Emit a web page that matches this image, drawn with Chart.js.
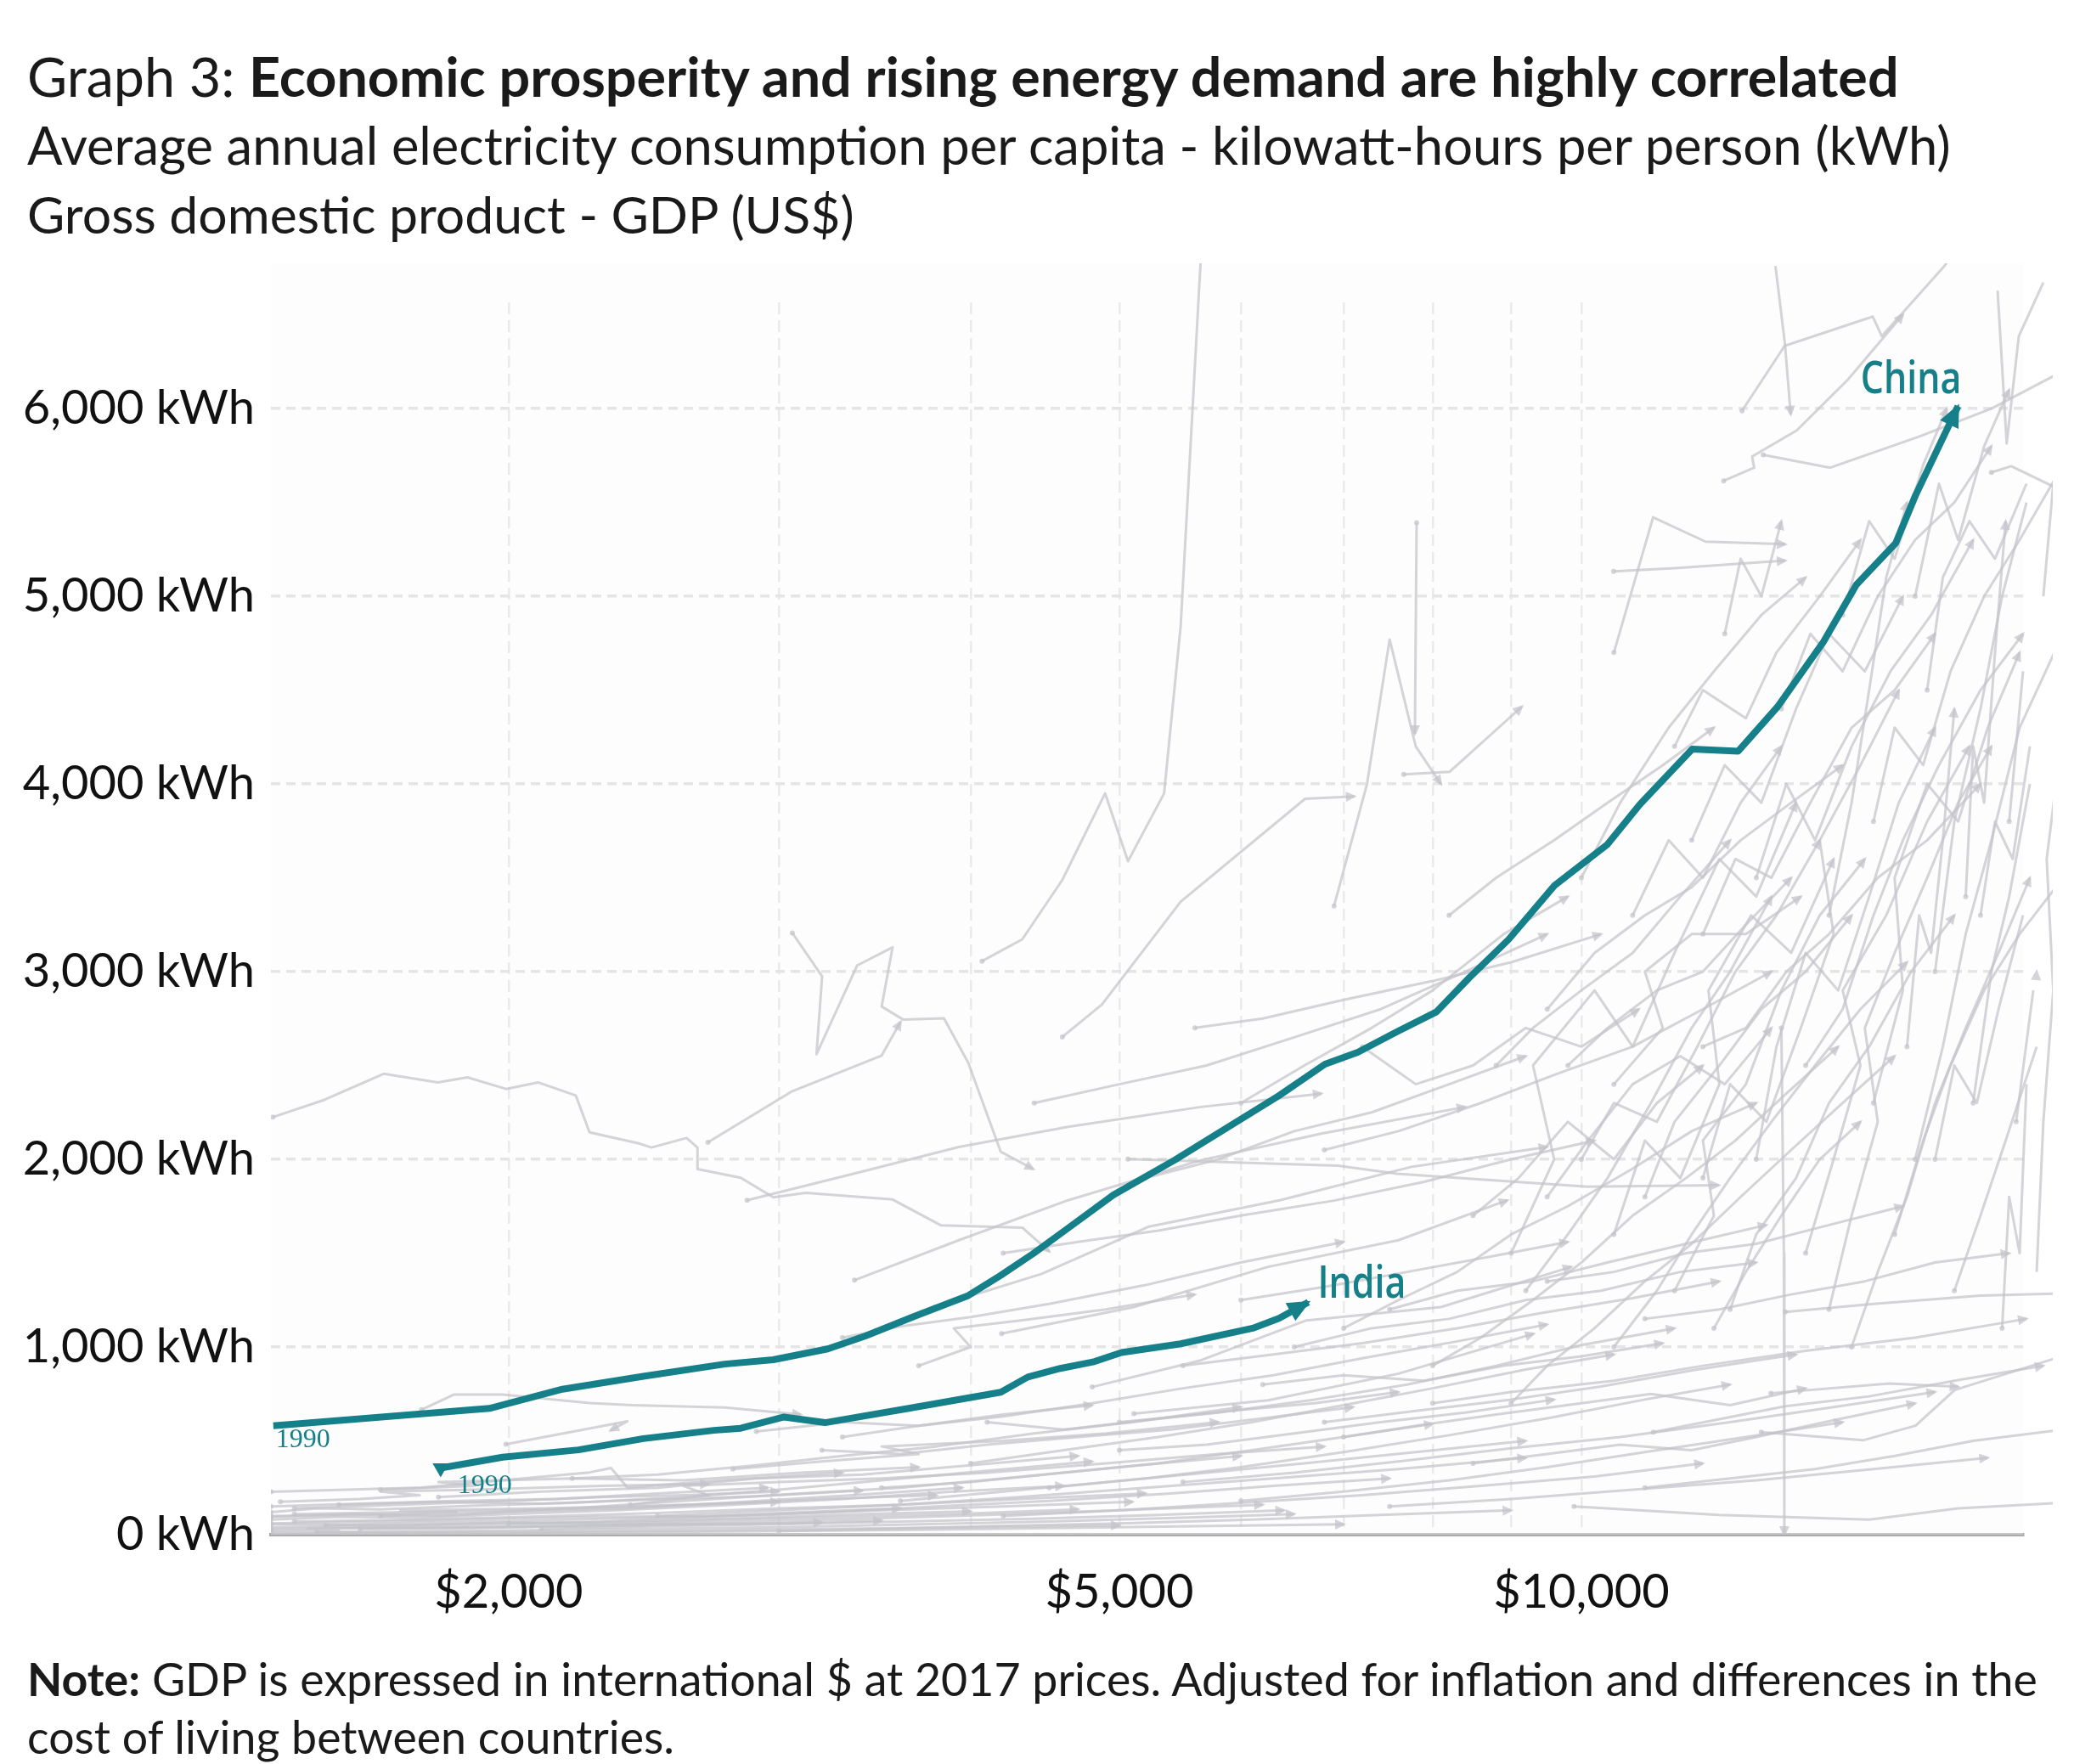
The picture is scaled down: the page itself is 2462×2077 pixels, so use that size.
<!DOCTYPE html>
<html lang="en">
<head>
<meta charset="UTF-8">
<title>Graph 3: Economic prosperity and rising energy demand</title>
<script src="https://cdn.jsdelivr.net/npm/chart.js"></script>
<style>
    body { margin: 0; width: 2462px; height: 2077px; position: relative; overflow: hidden; background: #fff; font-family: Lato, sans-serif; color: #1a1a1a; }
    #chartBox { position: absolute; left: 0; top: 0; width: 2462px; height: 2077px; }
    .txt { position: absolute; left: 32px; white-space: nowrap; line-height: 1; }
</style>
</head>
<body>

<div id="chartBox"><canvas id="energyChart" width="2462" height="2077"></canvas></div>

<div class="txt" data-w="2204" data-cy="91">Graph 3: <b>Economic prosperity and rising energy demand are highly correlated</b></div>
<div class="txt" data-w="2265" data-cy="173">Average annual electricity consumption per capita - kilowatt-hours per person (kWh)</div>
<div class="txt" data-w="974" data-cy="254">Gross domestic product - GDP (US$)</div>
<div class="txt" id="note1" data-w="2367" data-cy="1978"><b>Note:</b> GDP is expressed in international $ at 2017 prices. Adjusted for inflation and differences in the</div>
<div class="txt" id="note2" data-cy="2046">cost of living between countries.</div>

<script>
    // GDP per capita (international $, 2017 prices) and electricity per capita (kWh), 1990 onwards
    var chinaGdp = [1405, 1943, 2168, 2448, 2766, 2975, 3228, 3416, 3675, 3986, 4185, 4394, 4613, 4955, 5430,
                    6352, 6807, 7150, 7584, 8047, 8453, 8965, 9605, 10393, 10919, 11810, 12654, 13422, 14382,
                    15107, 16026, 16508, 17597];
    var chinaKwh = [580, 673, 775, 844, 909, 932, 990, 1059, 1163, 1274, 1382, 1498, 1624, 1810, 1995,
                    2339, 2507, 2570, 2680, 2786, 2968, 3171, 3459, 3676, 3892, 4186, 4175, 4411, 4758,
                    5061, 5283, 5537, 6013];

    var indiaGdp = [1806, 1982, 2221, 2448, 2721, 2833, 3023, 3215, 3645, 4185, 4358, 4576, 4805, 5016, 5482, 6107, 6353, 6639];
    var indiaKwh = [355, 413, 452, 512, 556, 567, 627, 597, 673, 759, 840, 886, 920, 971, 1017, 1100, 1153, 1239];

    // other countries, [gdp, kWh] per step
    var lowTracks = [
        [[1400, 40], [1600, 45], [1850, 55], [2100, 60], [2500, 75], [2900, 90], [3400, 110], [4000, 125]],
        [[1400, 80], [1550, 95], [1750, 90], [2000, 110], [2350, 130], [2800, 160], [3300, 190], [3900, 230], [4600, 260]],
        [[1400, 120], [1500, 140], [1650, 135], [1900, 155], [2200, 170], [2600, 200], [3000, 240], [3500, 290], [4100, 340], [4800, 390]],
        [[1420, 175], [1600, 190], [1750, 210], [1650, 230], [1900, 240], [2300, 260], [2700, 270]],
        [[1400, 228], [1755, 251], [2258, 332], [2332, 355], [2390, 251], [2750, 290], [3300, 330]],
        [[1500, 15], [1900, 20], [2400, 30], [3000, 40], [3700, 55], [4500, 70], [5500, 90], [6500, 110]],
        [[1650, 100], [1900, 115], [2200, 140], [2600, 180], [3100, 220], [3600, 250], [4200, 300], [5000, 360], [6000, 420]],
        [[2000, 60], [2300, 70], [2700, 95], [3200, 120], [3800, 150], [4500, 180], [5400, 220], [6300, 260], [7500, 300]],
        [[1992, 482], [2390, 604], [2330, 555]],
        [[1755, 666], [1843, 747], [1982, 747], [2258, 701], [2409, 690], [2766, 678], [3100, 640]],
        [[2400, 160], [2700, 210], [2600, 260], [3000, 280], [3500, 300], [4100, 330], [4900, 380], [5800, 430], [6800, 470]],
        [[2800, 350], [3200, 390], [3700, 430], [3500, 470], [4200, 500], [4900, 540], [5800, 600]],
        [[3000, 20], [3500, 30], [4100, 45], [5000, 60], [6100, 80], [7400, 105], [9000, 130]],
        [[2200, 300], [2500, 320], [2900, 370], [3300, 420], [3800, 470], [4400, 540], [5100, 600], [6000, 680]],
        [[3600, 180], [4200, 230], [4900, 280], [5700, 330], [6600, 380], [7800, 440], [9200, 500]],
        [[1400, 10], [1700, 12], [2100, 15], [2600, 22], [3200, 30], [4000, 40], [5000, 50]],
        [[1400, 60], [1650, 70], [1950, 85], [2300, 95], [2700, 100], [3100, 120], [3600, 140]],
        [[1450, 140], [1700, 160], [2000, 180], [2300, 200], [2600, 210], [3000, 230]],
        [[1600, 30], [1900, 35], [2300, 50], [2800, 70], [3400, 85], [4100, 105], [5000, 130], [6200, 160]],
        [[1800, 200], [2100, 230], [2500, 250], [2900, 300], [3400, 320], [4000, 370], [4700, 420]],
        [[2500, 100], [3000, 130], [3600, 160], [4300, 200], [5200, 250], [6300, 300], [7600, 350], [9200, 410]],
        [[4200, 100], [5000, 130], [6000, 170], [7200, 210], [8600, 260], [10200, 310], [12000, 380]],
        [[1400, 95], [1580, 110], [1800, 100], [2050, 125], [2400, 140], [2850, 175], [3350, 210], [3950, 250]],
        [[1520, 50], [1750, 65], [2050, 75], [2450, 90], [2950, 105], [3500, 130], [4200, 150], [5100, 175]],
        [[1400, 20], [1550, 25], [1480, 35], [1700, 40], [2000, 45], [2400, 55], [2900, 60], [3500, 75]],
        [[1400, 55], [1700, 50], [2000, 65], [2350, 60], [2750, 80], [3300, 95], [3900, 110], [4700, 135]],
        [[1400, 100], [1600, 105], [1850, 120], [1700, 130], [2100, 140], [2500, 155], [3000, 175]],
        [[1450, 70], [1750, 80], [2050, 95], [2500, 115], [3000, 140], [3600, 160], [4300, 190], [5200, 220]],
        [[1550, 160], [1800, 175], [2100, 165], [2450, 185], [2900, 205], [3400, 235]],
        [[1400, 5], [1800, 8], [2300, 12], [2900, 18], [3600, 25], [4500, 35], [5600, 45], [7000, 55]],
        [[2100, 30], [2500, 45], [3000, 55], [3600, 70], [4400, 85], [5300, 105], [6400, 130]],
        [[1650, 240], [1900, 260], [1800, 280], [2200, 300], [2600, 290], [3100, 330], [3700, 360]],
        [[1400, 30], [1650, 35], [1950, 40], [2300, 45], [2700, 55], [3200, 65]],
        [[1450, 110], [1700, 120], [2000, 130], [2350, 145], [2750, 165], [3200, 190], [3800, 210]],
        [[1400, 150], [1600, 165], [1850, 180], [2150, 190], [2500, 220], [2950, 250]]
    ];

    var lowerMidTracks = [
        [[3300, 520], [3700, 580], [4200, 630], [4800, 700], [5500, 780], [6300, 850], [7200, 940], [8300, 1030], [9500, 1120]],
        [[4000, 380], [4600, 450], [5300, 520], [6100, 600], [7000, 690], [8000, 780], [9200, 880], [10500, 960]],
        [[4500, 250], [5200, 300], [6000, 360], [7000, 440], [8200, 530], [9500, 620], [11000, 720], [12500, 800]],
        [[5000, 600], [5800, 650], [6700, 720], [7700, 800], [8800, 900], [10000, 1010], [11500, 1100]],
        [[6000, 180], [7000, 230], [8200, 290], [9500, 360], [11000, 440], [12800, 520], [14800, 600]],
        [[9890, 150], [12290, 105], [15400, 80], [17600, 140], [20600, 170]],
        [[13100, 546], [15260, 503], [16510, 581], [17510, 771], [20600, 953]],
        [[13290, 754], [15870, 806], [17600, 788]],
        [[13580, 1187], [15500, 1230], [18200, 1274], [20600, 1285]],
        [[7000, 520], [7800, 580], [8800, 640], [10000, 700], [11100, 750], [12500, 690], [14000, 780]],
        [[8500, 380], [9500, 430], [10600, 480], [11800, 450], [13000, 520], [14600, 610], [16500, 700]],
        [[11140, 546], [13580, 684], [15400, 737], [17500, 820], [20000, 900]],
        [[5500, 900], [6300, 960], [7200, 1020], [8300, 1100], [9400, 1180], [10800, 1260], [12300, 1350]],
        [[8000, 700], [9000, 760], [10500, 820], [12000, 900], [14000, 980], [16500, 1050], [19500, 1150]],
        [[11000, 250], [12500, 300], [14200, 350], [16000, 420], [18000, 500], [20600, 560]],
        [[5500, 280], [6500, 330], [7600, 390], [9000, 460], [10600, 520], [12500, 600], [14600, 680], [17000, 760]],
        [[6800, 600], [7800, 660], [9000, 720], [10300, 790], [11900, 880], [13800, 960]],
        [[7500, 150], [9000, 190], [10800, 240], [13000, 290], [15500, 350], [18400, 410]],
        [[4800, 787], [5650, 929], [6620, 1142], [8100, 1213], [9850, 1427]],
        [[5110, 645], [6250, 716], [7600, 858], [9310, 1071]],
        [[12200, 1100], [12800, 1400], [13500, 1700], [14300, 2000], [15200, 2200]],
        [[6500, 1000], [7300, 1100], [8200, 1150], [9200, 1250], [10300, 1300], [11600, 1400], [13000, 1450]],
        [[7500, 1200], [8300, 1300], [9300, 1350], [10400, 1450], [11700, 1550], [13200, 1650]],
        [[9500, 1350], [10500, 1400], [11700, 1500], [13000, 1550], [14500, 1650], [16200, 1750]],
        [[11000, 1150], [12300, 1200], [13700, 1280], [15300, 1350], [17000, 1450], [19000, 1500]],
        [[6000, 1250], [6800, 1320], [7700, 1400], [8700, 1480], [9800, 1560]],
        [[3200, 450], [3600, 430], [4100, 480], [4700, 520], [5400, 560], [6200, 620], [7100, 680]],
        [[3500, 250], [4000, 280], [4600, 330], [5300, 380], [6100, 450], [7000, 520], [8000, 590]],
        [[4100, 600], [4600, 560], [5200, 610], [5900, 660], [6700, 700], [7600, 760]],
        [[5000, 450], [5700, 480], [6500, 540], [7400, 600], [8400, 650], [9600, 720]],
        [[2900, 550], [3300, 600], [3700, 580], [4200, 640], [4800, 690]],
        [[6200, 800], [7000, 850], [7900, 820], [8900, 900], [10000, 950], [11300, 1020]]
    ];

    var midTracks = [
        [[1404, 2225], [1517, 2317], [1658, 2456], [1798, 2410], [1880, 2437], [1992, 2375], [2090, 2410], [2212, 2340],
         [2258, 2144], [2428, 2086], [2478, 2063], [2612, 2114], [2655, 2063], [2655, 1948], [2833, 1902], [2975, 1798],
         [3124, 1821], [3558, 1786], [3827, 1648], [4322, 1636], [4501, 1509]],
        [[3061, 3206], [3201, 2975], [3174, 2560], [3374, 3033], [3558, 3130], [3500, 2814], [3616, 2744], [3843, 2751],
         [3986, 2514], [4185, 2040], [4394, 1948]],
        [[2697, 2091], [3061, 2363], [3500, 2553], [3601, 2733]],
        [[5065, 2001], [6940, 1966], [7584, 1923], [10090, 1854], [12290, 1862]],
        [[3300, 1050], [3600, 1110], [4000, 1160], [4500, 1230], [5200, 1330], [6000, 1450], [7000, 1560]],
        [[4200, 1500], [4700, 1560], [5300, 1620], [6000, 1700], [6900, 1780], [7900, 1880], [9000, 2000], [10200, 2100]],
        [[3700, 900], [4000, 1000], [3900, 1100], [4300, 1140], [4900, 1200], [5600, 1280]],
        [[7000, 1100], [7600, 1250], [8300, 1400], [9000, 1600], [9800, 1750], [10800, 1950], [11800, 2150], [13000, 2300]],
        [[8000, 900], [8600, 1050], [9300, 1250], [10000, 1450], [10800, 1700], [11700, 1900], [12600, 2100], [13600, 2350], [14700, 2600]],
        [[9000, 700], [9500, 900], [10200, 1100], [11000, 1350], [11800, 1550], [12700, 1800], [13700, 2050], [14800, 2300], [16000, 2550]],
        [[10500, 1000], [11200, 1300], [11800, 1600], [12500, 1900], [13300, 2200], [14200, 2500], [15200, 2800], [16300, 3050]],
        [[6800, 2050], [7600, 2150], [8600, 2300], [9600, 2450], [10800, 2600], [12000, 2800], [13300, 3000]],
        [[5600, 2700], [6200, 2750], [7000, 2850], [8000, 2950], [9000, 3050], [10300, 3200]],
        [[11500, 1300], [12200, 1700], [12000, 2100], [12800, 2400], [13500, 2900], [14300, 3300], [15300, 3600]],
        [[14000, 1500], [14600, 2000], [15200, 2500], [14800, 2900], [15800, 3300], [16800, 3800], [17900, 4200]],
        [[12000, 2600], [12800, 2700], [13600, 3000], [14500, 3200], [15600, 3500], [16800, 3700], [18200, 4000]],
        [[15000, 1000], [15600, 1400], [16300, 1800], [17000, 2300], [17800, 2700], [18700, 3100], [19600, 3500]],
        [[16500, 2000], [17200, 2600], [17800, 3200], [18500, 3700], [19300, 4300], [20600, 4800]],
        [[13500, 2700], [13550, 1500], [13560, 300], [13560, 0]],
        [[4590, 2652], [4870, 2824], [5482, 3373], [6607, 3921], [7114, 3934]],
        [[2860, 1782], [3360, 1924], [3930, 2066], [4630, 2173], [5650, 2279], [6770, 2350]],
        [[3360, 1356], [3930, 1569], [4630, 1782], [5650, 1995], [6770, 2137], [8400, 2279]],
        [[3790, 1213], [4450, 1390], [5220, 1640], [6360, 1782], [7750, 1960], [9500, 2066]],
        [[4190, 1071], [5110, 1213], [6250, 1427], [7600, 1569], [8950, 1782]],
        [[4400, 2300], [5000, 2400], [5700, 2500], [6500, 2650], [7400, 2800], [8400, 3000], [9500, 3200]],
        [[5200, 1900], [5800, 2000], [6500, 2150], [7300, 2250], [8200, 2400], [9200, 2550]],
        [[6000, 2300], [6600, 2500], [7300, 2700], [8000, 2900], [8900, 3200], [9800, 3400]],
        [[9200, 1300], [9800, 1600], [10400, 1900], [11100, 2300], [11800, 2700], [12500, 3000], [13300, 3400]],
        [[10000, 2000], [10500, 2300], [11200, 2200], [11900, 2600], [12600, 3000], [13400, 3300], [14300, 3700]],
        [[11000, 1800], [11500, 2200], [12300, 2500], [13100, 2800], [14000, 3000], [15000, 3300]],
        [[12500, 1200], [13000, 1600], [13800, 1900], [14500, 2300], [15400, 2600], [16400, 3000], [17500, 3300]],
        [[16000, 1600], [16700, 2100], [17400, 2500], [18300, 2900], [19300, 3200], [20600, 3500]],
        [[17500, 1300], [18200, 1700], [18900, 2100], [19800, 2600], [20600, 3000]],
        [[18000, 2300], [18500, 3000], [19000, 3400], [19600, 4000], [20600, 4400]],
        [[8800, 2500], [9300, 2700], [10000, 2900], [10800, 3100], [11600, 3400], [12500, 3700]],
        [[7200, 2600], [7800, 2400], [8500, 2500], [9200, 2700], [10000, 2600], [10900, 2800]],
        [[10500, 2400], [11300, 2700], [11000, 3000], [11800, 3200], [12800, 3200], [13900, 3400]],
        [[9500, 1800], [10100, 2100], [10800, 2400], [11600, 2550], [12400, 2400], [13300, 2700]],
        [[9000, 1500], [9600, 2000], [9300, 2500], [10200, 2900], [10800, 2600], [11500, 3100], [12300, 3600], [13000, 3400], [13800, 3900]],
        [[10500, 1600], [11000, 2100], [11600, 1900], [12300, 2400], [12100, 2900], [12900, 3300], [13700, 3100], [14600, 3600]],
        [[12000, 1900], [12500, 2400], [13200, 2200], [13900, 2700], [14600, 3200], [14300, 3700], [15200, 4100], [16100, 4500]],
        [[13000, 2000], [13400, 2600], [14000, 3100], [14700, 2900], [15400, 3400], [16100, 3900], [17000, 4300]],
        [[14500, 1200], [15000, 1700], [15600, 2200], [15300, 2700], [16000, 3100], [16800, 3500], [17600, 3900], [18500, 4200]],
        [[15500, 2300], [16200, 2900], [16000, 3500], [16800, 4000], [17600, 3800], [18400, 4300], [19300, 4700]],
        [[17000, 2000], [17500, 2500], [18100, 2300], [18700, 2800], [19400, 3300], [20600, 3700]],
        [[18200, 3300], [18600, 3800], [19100, 3600], [19600, 4200], [20600, 4700]],
        [[19200, 2200], [19700, 2900], [20600, 3300]],
        [[8500, 1700], [9100, 1900], [9800, 2200], [10500, 2000], [11200, 2300], [12000, 2500]],
        [[9800, 2500], [10400, 2700], [11200, 2900], [12000, 3000], [12800, 3250], [13700, 3500]],
        [[19800, 1400], [20000, 2200], [20300, 2900], [20100, 3600], [20600, 4300]],
        [[18800, 1100], [19000, 1800], [19300, 1500], [19500, 2400], [19800, 3000]],
        [[16300, 2600], [16600, 3300], [16900, 3100], [17200, 3700], [17500, 4400]]
    ];

    var highTracks = [
        [[4069, 3056], [4322, 3172], [4590, 3489], [4894, 3950], [5065, 3588], [5347, 3950], [5482, 4844], [5645, 6749], [5690, 7100]],
        [[9500, 2800], [10200, 3100], [11000, 3300], [11800, 3450], [12700, 3700], [13700, 3900], [14800, 4100]],
        [[8200, 3300], [8800, 3500], [9600, 3700], [10400, 3900], [11300, 4100], [12200, 4300]],
        [[13000, 3500], [13600, 4000], [14200, 3700], [15000, 4200], [15900, 4600], [16900, 4900], [18000, 5300]],
        [[17000, 3000], [17500, 3800], [18200, 4400], [18800, 5000], [19500, 5500], [20600, 5900]],
        [[10000, 3500], [10600, 3900], [11400, 4300], [12200, 4600], [13100, 4900], [14000, 5100]],
        [[11500, 4200], [12000, 4500], [12800, 4350], [13400, 4700], [14300, 5000], [15200, 5300]],
        [[7660, 4051], [8208, 4065], [9146, 4412]],
        [[7810, 5392], [7790, 4267]],
        [[10500, 4700], [11137, 5421], [12048, 5291], [13580, 5277]],
        [[10496, 5133], [11500, 5150], [13580, 5190]],
        [[6900, 3350], [7250, 4000], [7500, 4770], [7800, 4200], [8100, 4000]],
        [[13380, 6760], [13570, 6350], [13690, 5970]],
        [[12725, 5988], [13566, 6334], [15484, 6490], [15696, 6386], [17240, 6760], [18500, 7100]],
        [[12380, 5615], [12960, 5685], [12920, 5745], [13815, 5884], [14900, 6150], [16200, 6500]],
        [[13136, 5754], [14526, 5685], [16580, 5849], [18500, 6000], [20600, 6200]],
        [[18500, 5660], [19060, 5693], [20600, 5560]],
        [[18673, 6629], [18930, 5814], [19277, 6386], [20000, 6672], [20600, 6507]],
        [[14000, 2500], [14800, 2800], [15500, 3300], [16200, 3700], [17100, 4100], [18200, 4500], [19400, 4800]],
        [[15500, 3800], [16000, 4300], [16700, 4100], [17400, 4600], [18300, 5000], [19300, 5300], [20600, 5700]],
        [[12000, 3200], [12600, 3600], [13300, 3500], [14100, 3900], [15000, 4300], [16000, 4500], [17000, 4800]],
        [[13500, 4400], [14100, 4800], [14800, 4600], [15600, 5000], [16500, 5300], [17500, 5500], [18500, 5800]],
        [[16800, 4500], [17200, 5100], [17900, 5400], [18600, 5200], [19500, 5600], [20600, 6000]],
        [[19000, 3800], [19400, 4600], [19800, 5200], [20300, 5800], [20600, 6400]],
        [[14500, 3300], [15000, 3900], [15400, 4500], [15800, 5100], [16300, 5500]],
        [[11800, 3700], [12400, 4100], [13100, 3900], [13800, 4400], [14500, 4800], [15300, 4600], [16200, 5000]],
        [[10800, 3300], [11400, 3700], [12000, 3500], [12700, 3900], [13500, 4200]],
        [[16500, 5000], [17100, 5600], [17600, 5300], [18300, 5800], [19000, 6100]],
        [[14800, 4900], [15400, 5400], [16000, 5200], [16700, 5700], [17300, 6000]],
        [[17800, 3400], [18000, 4200], [18300, 3900], [18600, 4700], [18900, 5400]],
        [[12400, 4800], [12700, 5200], [13100, 5000], [13500, 5400]],
        [[20000, 5000], [20300, 5600], [20600, 6300]]
    ];

    var yTicks = [0, 1000, 2000, 3000, 4000, 5000, 6000];
    var xGridTicks = [2000, 3000, 4000, 5000, 6000, 7000, 8000, 9000, 10000];
    var xLabelTicks = [2000, 5000, 10000];

    var teal = '#15808a';
    var grey = 'rgba(196, 196, 202, 0.72)';

    // fit the header / note lines to the widths they take in the original
    document.querySelectorAll('.txt').forEach(function (el) {
        var target = el.dataset.w ? +el.dataset.w : null;
        var size;
        if (target) {
            el.style.fontSize = '100px';
            size = 100 * target / el.scrollWidth;
        } else {
            size = parseFloat(document.getElementById('note1').style.fontSize);
        }
        el.style.fontSize = size + 'px';
        el.style.top = (+el.dataset.cy - size * 0.53) + 'px';
    });

    function toPoints(gdp, kwh) {
        return gdp.map(function (g, i) { return { x: g, y: kwh[i] }; });
    }

    var datasets = [
        { label: 'China', data: toPoints(chinaGdp, chinaKwh), borderColor: teal, borderWidth: 8, pointRadius: 0, arrow: [27, 12] },
        { label: 'India', data: toPoints(indiaGdp, indiaKwh), borderColor: teal, borderWidth: 8,
          pointRadius: function (c) { return c.dataIndex === 0 ? 11 : 0; },
          pointStyle: 'triangle', rotation: 180, pointBackgroundColor: teal, pointBorderWidth: 0, arrow: [27, 12] }
    ];
    lowTracks.concat(lowerMidTracks, midTracks, highTracks).forEach(function (t) {
        datasets.push({
            data: t.map(function (p) { return { x: p[0], y: p[1] }; }),
            borderColor: grey, borderWidth: 3,
            pointRadius: function (c) { return c.dataIndex === 0 ? 3 : 0; },
            pointBackgroundColor: grey, pointBorderWidth: 0, arrow: [13, 6]
        });
    });

    var overflow = { top: 46, right: 35 };

    var plotBackground = {
        id: 'plotBackground',
        beforeDatasetsDraw: function (chart) {
            var a = chart.chartArea, ctx = chart.ctx;
            ctx.save();
            ctx.fillStyle = 'rgba(250, 250, 250, 0.35)';
            ctx.fillRect(a.left, a.top - overflow.top, a.right - a.left, a.bottom - a.top + overflow.top);
            ctx.restore();
        }
    };

    var arrowHeads = {
        id: 'arrowHeads',
        afterDatasetDraw: function (chart, args) {
            var ds = chart.data.datasets[args.index];
            var pts = args.meta.data;
            if (!ds.arrow || pts.length < 2) return;
            var a = pts[pts.length - 2], b = pts[pts.length - 1];
            var ang = Math.atan2(b.y - a.y, b.x - a.x);
            var len = ds.arrow[0], half = ds.arrow[1];
            var ctx = chart.ctx, ca = chart.chartArea;
            var tx = b.x + 3 * Math.cos(ang), ty = b.y + 3 * Math.sin(ang);
            var bx = tx - len * Math.cos(ang), by = ty - len * Math.sin(ang);
            ctx.save();
            ctx.beginPath();
            ctx.rect(ca.left, ca.top - overflow.top, ca.right - ca.left + overflow.right, ca.bottom - ca.top + overflow.top);
            ctx.clip();
            ctx.beginPath();
            ctx.moveTo(tx, ty);
            ctx.lineTo(bx - half * Math.sin(ang), by + half * Math.cos(ang));
            ctx.lineTo(bx + half * Math.sin(ang), by - half * Math.cos(ang));
            ctx.closePath();
            ctx.fillStyle = ds.borderColor;
            ctx.fill();
            ctx.restore();
        }
    };

    var countryLabels = {
        id: 'countryLabels',
        afterDatasetsDraw: function (chart) {
            var ctx = chart.ctx;
            var china = chart.getDatasetMeta(0).data, india = chart.getDatasetMeta(1).data;
            var cEnd = china[china.length - 1], iEnd = india[india.length - 1];
            ctx.save();
            ctx.fillStyle = teal;
            ctx.textBaseline = 'middle';
            ctx.font = '600 53px "Open Sans"';
            // narrow the labels a little, like the condensed face of the original
            ctx.save();
            ctx.translate(cEnd.x + 4, cEnd.y - 30);
            ctx.scale(0.81, 1);
            ctx.textAlign = 'right';
            ctx.fillText('China', 0, 0);
            ctx.restore();
            ctx.save();
            ctx.translate(iEnd.x + 11, iEnd.y - 20);
            ctx.scale(0.81, 1);
            ctx.textAlign = 'left';
            ctx.fillText('India', 0, 0);
            ctx.restore();
            ctx.font = '32px "Liberation Serif"';
            ctx.textAlign = 'left';
            ctx.fillText('1990', china[0].x + 3, china[0].y + 17);
            ctx.fillText('1990', india[0].x + 20, india[0].y + 21);
            ctx.restore();
        }
    };

    var ctx = document.getElementById('energyChart').getContext('2d');
    var energyChart = new Chart(ctx, {
        type: 'line',
        data: { datasets: datasets },
        plugins: [plotBackground, arrowHeads, countryLabels],
        options: {
            responsive: false,
            animation: false,
            clip: { left: 0, top: overflow.top, right: overflow.right, bottom: 0 },
            elements: { line: { tension: 0, borderJoinStyle: 'round', borderCapStyle: 'butt' } },
            layout: { padding: { top: 356, right: 80, bottom: 150, left: 0 } },
            plugins: { legend: { display: false }, tooltip: { enabled: false } },
            scales: {
                x: {
                    type: 'logarithmic',
                    min: 1400,
                    max: 19400,
                    afterBuildTicks: function (scale) {
                        scale.ticks = xGridTicks.map(function (v) { return { value: v }; });
                    },
                    afterFit: function (scale) { scale.height = 120; },
                    ticks: {
                        autoSkip: false,
                        maxRotation: 0,
                        padding: 34,
                        color: '#111',
                        font: { family: 'Lato', size: 56 },
                        callback: function (v) {
                            return xLabelTicks.indexOf(v) >= 0 ? '$' + v.toLocaleString('en-US') : '';
                        }
                    },
                    grid: { color: '#e2e2e2', lineWidth: 2.5, drawTicks: false },
                    border: { display: true, color: '#ababab', width: 4, dash: [14, 7] }
                },
                y: {
                    min: 0,
                    max: 6566,
                    afterBuildTicks: function (scale) {
                        scale.ticks = yTicks.map(function (v) { return { value: v }; });
                    },
                    afterFit: function (scale) { scale.width = 319; },
                    ticks: {
                        padding: 19,
                        color: '#111',
                        font: { family: 'Lato', size: 56 },
                        callback: function (v) { return v.toLocaleString('en-US') + ' kWh'; }
                    },
                    grid: { color: '#dadada', lineWidth: 3.5, drawTicks: false },
                    border: { display: false, dash: [11, 7] }
                }
            }
        }
    });
</script>

</body>
</html>
